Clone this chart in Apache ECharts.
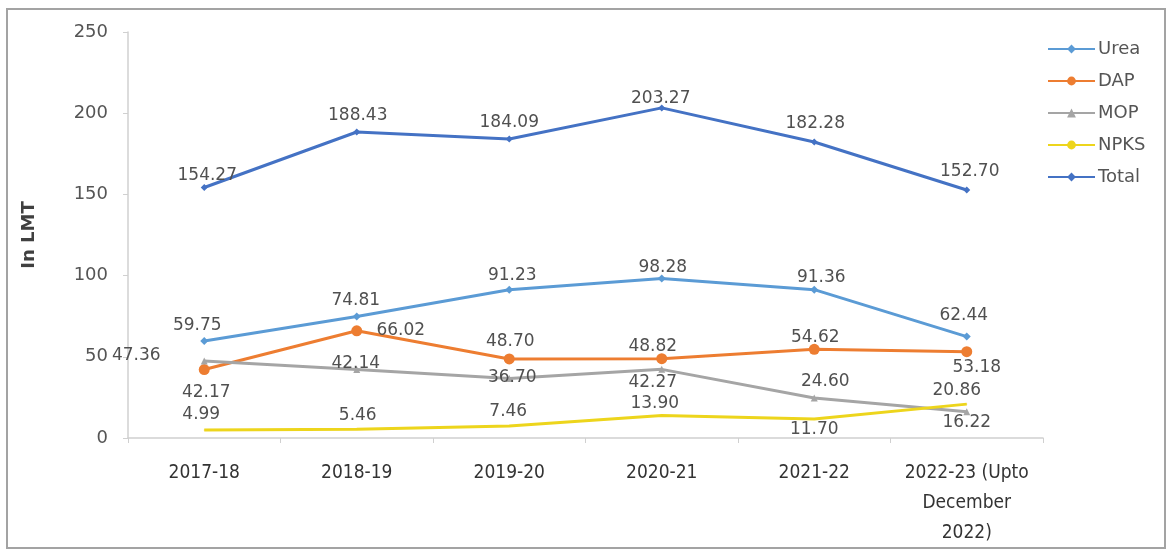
<!DOCTYPE html>
<html>
<head>
<meta charset="utf-8">
<script src="https://cdn.jsdelivr.net/npm/echarts@6/dist/echarts.min.js"></script>
<style>
  html, body { margin: 0; padding: 0; background: #fff; }
  #chart { width: 1170px; height: 552px; }
</style>
</head>
<body>
<div id="chart"></div>
<script>
// Fertilizer quantities by year, in lakh metric tonnes (LMT)
const years = ['2017-18', '2018-19', '2019-20', '2020-21', '2021-22', '2022-23 (Upto\nDecember\n2022)'];
const urea  = [59.75, 74.81, 91.23, 98.28, 91.36, 62.44];
const dap   = [42.17, 66.02, 48.70, 48.82, 54.62, 53.18];
const mop   = [47.36, 42.14, 36.70, 42.27, 24.60, 16.22];
const npks  = [4.99, 5.46, 7.46, 13.90, 11.70, 20.86];
const total = [154.27, 188.43, 184.09, 203.27, 182.28, 152.70];
const yTicks = [0, 50, 100, 150, 200, 250];

// Label placement (pixel offsets from each point's centre)
const labelShift = {
  Urea:  [[-7, -15], [-1, -16], [3, -14], [1, -11], [7, -12], [-3, -21]],
  DAP:   [[2, 23], [44, 0], [1, -17], [-9, -12], [1, -12], [10, 16]],
  MOP:   [[-68, -6], [-1, -6], [3, -1], [-9, 13], [11, -16], [0, 11]],
  NPKS:  [[-3, -15], [1, -14], [-1, -14], [-7, -12], [0, 11], [-10, -14]],
  Total: [[3, -12], [1, -16], [0, -16], [-1, -9], [1, -18], [3, -18]]
};

const labelFont = { fontFamily: 'DejaVu Sans', fontSize: 17, color: '#505050' };

function makeSeries(name, values, color, symbol, symbolSize) {
  return {
    name: name,
    type: 'line',
    data: values.map((v, i) => ({
      value: v,
      label: { offset: labelShift[name][i] }
    })),
    symbol: symbol,
    symbolSize: symbolSize,
    showSymbol: true,
    lineStyle: { color: color, width: 3 },
    itemStyle: { color: color },
    label: Object.assign({
      show: true,
      position: 'inside',
      formatter: p => p.value.toFixed(2)
    }, labelFont),
    emphasis: { disabled: true },
    z: 2
  };
}

const chart = echarts.init(document.getElementById('chart'), null, { renderer: 'canvas' });

chart.setOption({
  backgroundColor: '#ffffff',
  animation: false,
  graphic: [{
    type: 'rect',
    shape: { x: 7, y: 9, width: 1158, height: 539 },
    style: { fill: 'none', stroke: '#a3a3a3', lineWidth: 2 },
    silent: true,
    z: -1
  }],
  grid: { left: 128, right: 127, top: 32, bottom: 114 },
  legend: {
    orient: 'vertical',
    left: 1042,
    top: 34,
    itemWidth: 47,
    itemHeight: 11,
    itemGap: 12,
    textStyle: { fontFamily: 'DejaVu Sans', fontSize: 18, color: '#555555', lineHeight: 20, padding: [0, 0, 0, -2] },
    data: ['Urea', 'DAP', 'MOP', 'NPKS', 'Total']
  },
  xAxis: {
    type: 'category',
    data: years,
    boundaryGap: true,
    axisLine: { lineStyle: { color: '#d0d0d0', width: 1.5 } },
    axisTick: { show: true, length: 5, lineStyle: { color: '#d0d0d0' } },
    axisLabel: {
      margin: 20,
      fontFamily: 'DejaVu Sans Condensed, DejaVu Sans',
      fontSize: 19,
      lineHeight: 30,
      color: '#333333',
      interval: 0
    }
  },
  yAxis: {
    type: 'value',
    min: yTicks[0],
    max: yTicks[yTicks.length - 1],
    interval: yTicks[1] - yTicks[0],
    name: 'In LMT',
    nameLocation: 'middle',
    nameRotate: 90,
    nameGap: 90,
    nameTextStyle: { fontFamily: 'DejaVu Sans', fontSize: 18, fontWeight: 'bold', color: '#404040' },
    axisLine: { show: true, lineStyle: { color: '#d0d0d0', width: 1.5 } },
    axisTick: { show: true, length: 5, lineStyle: { color: '#d0d0d0' } },
    splitLine: { show: false },
    axisLabel: { margin: 20, fontFamily: 'DejaVu Sans', fontSize: 18, color: '#555555' }
  },
  series: [
    makeSeries('Urea', urea, '#5B9BD5', 'diamond', 8),
    makeSeries('DAP', dap, '#ED7D31', 'circle', 11),
    makeSeries('MOP', mop, '#A5A5A5', 'triangle', 7),
    makeSeries('NPKS', npks, '#EDD51C', 'circle', 1),
    makeSeries('Total', total, '#4472C4', 'diamond', 7)
  ]
});
</script>
</body>
</html>
